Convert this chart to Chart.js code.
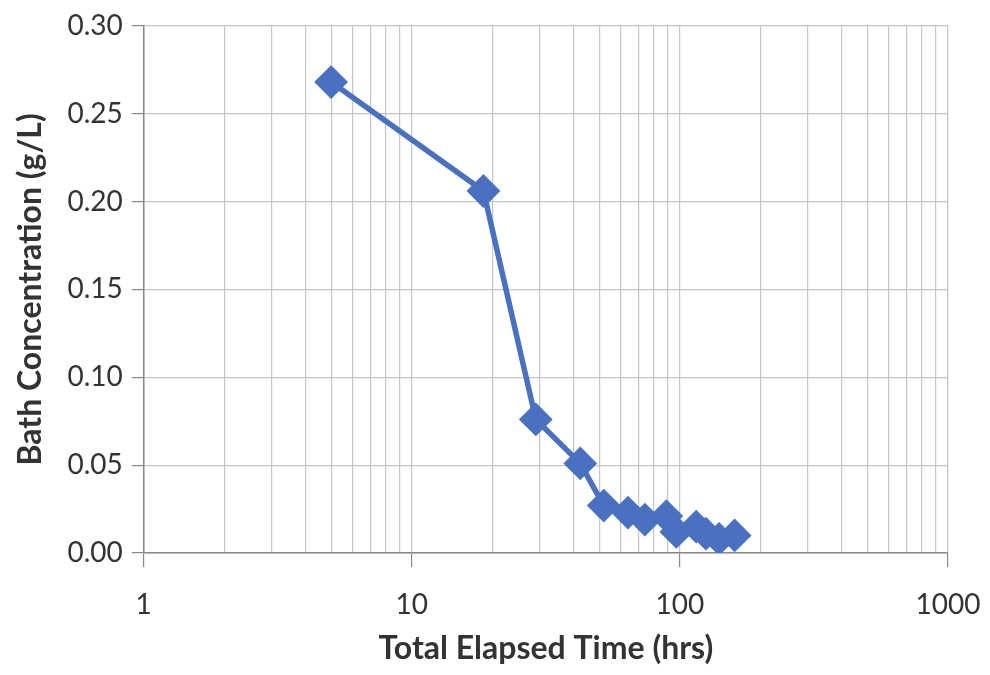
<!DOCTYPE html>
<html>
<head>
<meta charset="utf-8">
<script src="https://cdn.jsdelivr.net/npm/chart.js@4.4.1/dist/chart.umd.min.js"></script>
<style>
  html, body { margin: 0; padding: 0; background: #fff; }
  #wrap { width: 990px; height: 675px; }
</style>
</head>
<body>
<div id="wrap"><canvas id="bathChart" width="990" height="675"></canvas></div>
<script>
// elapsed time (hrs) and bath concentration (g/L)
var elapsedHours = [5, 18.5, 29, 42.5, 52, 64, 74, 89, 97, 115, 125, 140, 160];
var bathConc = [0.268, 0.206, 0.076, 0.051, 0.027, 0.023, 0.019, 0.021, 0.012, 0.015, 0.011, 0.008, 0.010];
var yTicks = [0, 0.05, 0.10, 0.15, 0.20, 0.25, 0.30];
var xMajor = [1, 10, 100, 1000];

var blue = '#4a70c1';
var gridGray = '#c4c4cc';

var points = elapsedHours.map(function (t, i) { return { x: t, y: bathConc[i] }; });

// every 1..9 x 10^n step from 1 to 1000
function logTicks() {
  var out = [];
  for (var d = 1; d < 1000; d *= 10) {
    for (var k = 1; k < 10; k++) out.push({ value: k * d });
  }
  out.push({ value: 1000 });
  return out;
}
function isMajor(v) { return xMajor.indexOf(v) >= 0; }

var bathChart = new Chart(document.getElementById('bathChart'), {
  type: 'line',
  data: {
    datasets: [{
      data: points,
      borderColor: blue,
      backgroundColor: blue,
      borderWidth: 5.5,
      pointStyle: 'rectRot',
      pointRadius: 13,
      pointBackgroundColor: blue,
      pointBorderColor: blue,
      tension: 0
    }]
  },
  options: {
    responsive: false,
    animation: false,
    layout: { padding: { top: 25, right: 42, left: 11, bottom: 7 } },
    plugins: { legend: { display: false }, tooltip: { enabled: false } },
    scales: {
      x: {
        type: 'logarithmic',
        min: 1,
        max: 1000,
        afterBuildTicks: function (scale) { scale.ticks = logTicks(); },
        // let the "1000" label hang into the right margin
        afterFit: function (scale) { scale.paddingRight = 0; },
        ticks: {
          autoSkip: false,
          maxRotation: 0,
          color: '#333',
          padding: 21,
          font: { family: 'Lato', size: 28 },
          callback: function (v) { return isMajor(v) ? String(v) : ''; }
        },
        grid: {
          color: gridGray,
          lineWidth: 1.2,
          tickLength: 14,
          tickColor: function (ctx) { return ctx.tick && isMajor(ctx.tick.value) ? '#888' : 'rgba(0,0,0,0)'; }
        },
        border: { color: '#888', width: 1.5 },
        title: {
          display: true,
          text: 'Total Elapsed Time (hrs)',
          color: '#333',
          font: { family: 'Lato', size: 32, weight: 'bold' },
          padding: { top: -13, bottom: 0 }
        }
      },
      y: {
        min: 0,
        max: 0.3,
        afterBuildTicks: function (scale) {
          scale.ticks = yTicks.map(function (v) { return { value: v }; });
        },
        ticks: {
          color: '#333',
          padding: 9,
          font: { family: 'Lato', size: 28 },
          callback: function (v) { return Number(v).toFixed(2); }
        },
        grid: { color: gridGray, lineWidth: 1.2, tickLength: 12, tickColor: '#888' },
        border: { color: '#888', width: 1.5 },
        title: {
          display: true,
          text: 'Bath Concentration (g/L)',
          color: '#333',
          font: { family: 'Lato', size: 32, weight: 'bold' },
          padding: { top: 0, bottom: 9 }
        }
      }
    }
  }
});
</script>
</body>
</html>
